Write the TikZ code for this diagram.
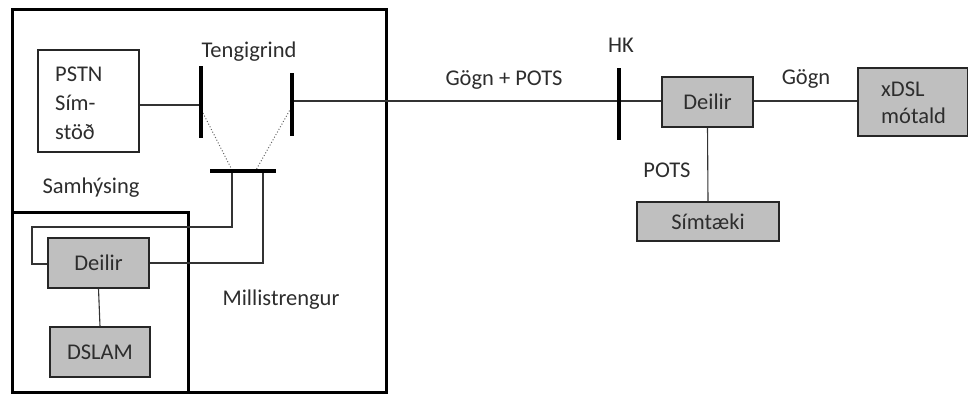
\documentclass[tikz,border=0pt]{standalone}
\usepackage{fontspec}
\setmainfont{Carlito}
\definecolor{boxgray}{RGB}{191,191,191}
\definecolor{txt}{RGB}{45,45,45}
\begin{document}
\begin{tikzpicture}[x=1pt,y=-1pt,
  every node/.style={font=\fontsize{22.5}{27}\selectfont, text=txt},
  box/.style={draw=black!85, line width=1.1pt, fill=boxgray, minimum width=#1, inner sep=0pt},
  wbox/.style={draw=black!85, line width=1.1pt, fill=white, inner sep=0pt},
  frame/.style={draw=black, line width=3pt},
  bar/.style={draw=black, line width=4pt},
  wire/.style={draw=black!80, line width=1.1pt},
  dots/.style={draw=black!60, line width=1pt, dotted},
  lbl/.style={inner sep=0pt}]
\useasboundingbox (0,0) rectangle (968,394);
% frames
\draw[frame] (12,9) rectangle (386,392);
\draw[frame] (12,212) rectangle (188,392);
% boxes
\node[wbox, minimum width=101pt, minimum height=102pt] (pstn) at (88.5,101) {};
\node[lbl, align=left, anchor=north west, font=\fontsize{22.5}{29}\selectfont] (pstntxt) at (55,67) {PSTN\\Sím-\\stöð};
\node[box=101pt, minimum height=50pt] (deilirL) at (98.5,263) {Deilir};
\node[box=100pt, minimum height=50pt] (dslam) at (100,352) {DSLAM};
\node[box=91pt, minimum height=50pt] (deilirR) at (707.5,102) {Deilir};
\node[box=110pt, minimum height=68pt] (xdsl) at (913,102) {};
\node[lbl, align=left, anchor=north west, font=\fontsize{22.5}{27}\selectfont] (xdsltxt) at (881,82) {xDSL\\mótald};
\node[box=142pt, minimum height=39pt] (simt) at (708,221.5) {Símtæki};
% bars
\coordinate (lbT) at (201,66); \coordinate (lbB) at (201,138);
\coordinate (rbT) at (292,73); \coordinate (rbB) at (292,136);
\coordinate (hbL) at (210,171); \coordinate (hbR) at (276,171);
\coordinate (hkT) at (619,68); \coordinate (hkB) at (619,140);
\coordinate (lb) at (201,105);
\coordinate (rb) at (292,101);
\coordinate (hk) at (619,101);
\coordinate (hb1) at (232,171);
\coordinate (hb2) at (263,171);
% wires
\draw[wire] (pstn.east |- lb) -- (lb);
\draw[wire] (rb) -- (hk) -- (deilirR.west |- hk);
\draw[wire] (deilirR.east |- hk) -- (xdsl.west |- hk);
\draw[wire] (deilirR.south) -- (simt.north);
\draw[wire] (deilirL.south) -- (dslam.north);
\draw[wire] (hb1) -- (232,227) -- (32,227) -- (32,264) -- (deilirL.west |- 0,264);
\draw[wire] (hb2) -- (263,263) -- (deilirL.east |- 0,263);
\draw[dots] (203,113) -- (232,170);
\draw[dots] (291,108) -- (256,170);
\draw[bar] (lbT) -- (lbB);
\draw[bar] (rbT) -- (rbB);
\draw[bar] (hbL) -- (hbR);
\draw[bar] (hkT) -- (hkB);
% labels
\node[lbl] (teng) at (249,52) {Tengigrind};
\node[lbl] (samh) at (91,188) {Samhýsing};
\node[lbl] (milli) at (281,300) {Millistrengur};
\node[lbl] (gp) at (504,80) {Gögn + POTS};
\node[lbl] (hkl) at (621,45) {HK};
\node[lbl] (gogn) at (806,79) {Gögn};
\node[lbl] (pots) at (667,170) {POTS};
\end{tikzpicture}
\end{document}
